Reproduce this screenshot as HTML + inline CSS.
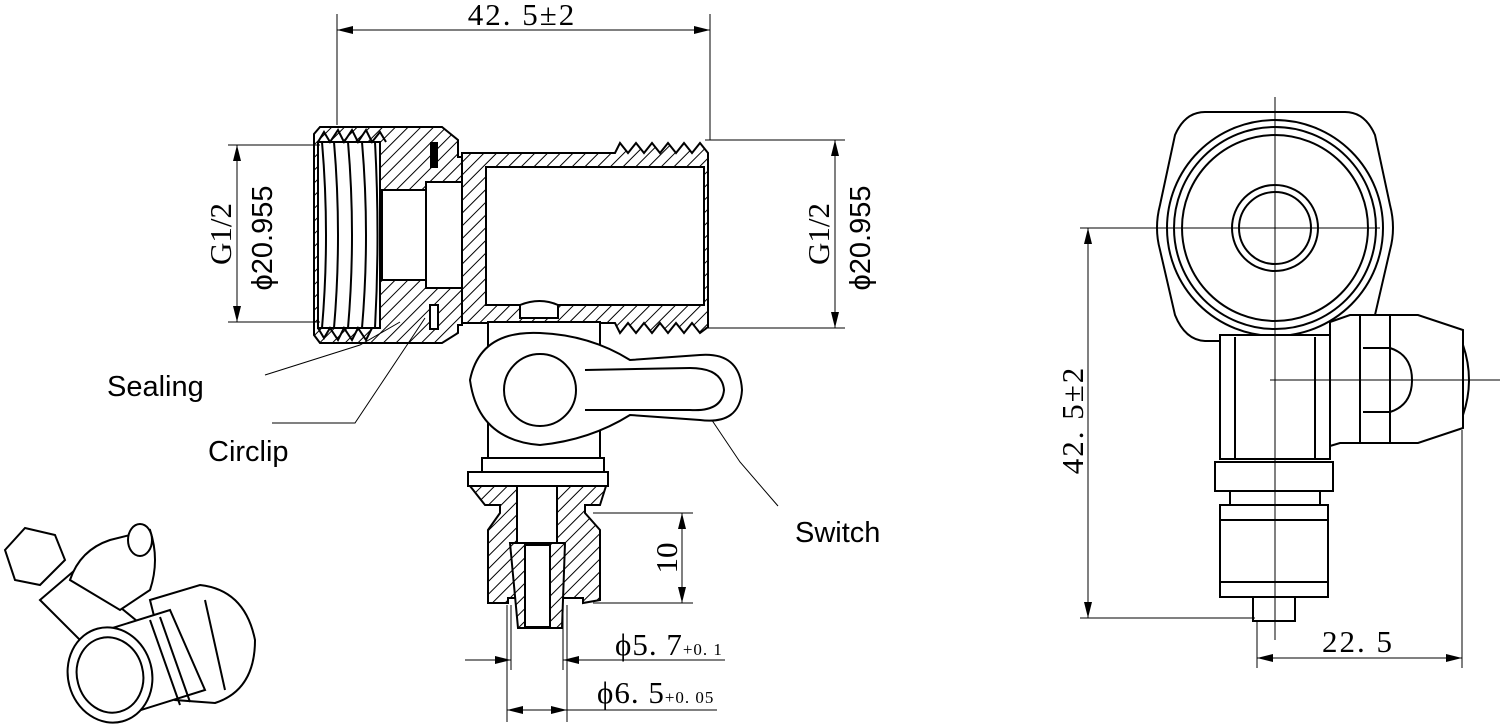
<!DOCTYPE html>
<html><head><meta charset="utf-8"><style>
html,body{margin:0;padding:0;background:#fff;}
svg{display:block;}
.s{fill:none;stroke:#000;stroke-width:2;}
.t{stroke:#000;stroke-width:1;fill:none;}
.h{fill:url(#hatch);stroke:#000;stroke-width:2;}
.w{fill:#fff;stroke:#000;stroke-width:2;}
.lab{font-family:"Liberation Sans",sans-serif;font-size:29px;}
.dim{font-family:"Liberation Serif",serif;font-size:31px;}
</style></head><body>
<svg width="1500" height="725" viewBox="0 0 1500 725" xmlns="http://www.w3.org/2000/svg">
<defs>
<pattern id="hatch" width="9" height="9" patternUnits="userSpaceOnUse" patternTransform="rotate(45)">
<rect width="9" height="9" fill="#fff"/><line x1="0" y1="0" x2="0" y2="9" stroke="#000" stroke-width="2"/></pattern>
<marker id="a" markerWidth="16" markerHeight="8" refX="16" refY="4" orient="auto-start-reverse" markerUnits="userSpaceOnUse">
<path d="M0,0 L16,4 L0,8 z" fill="#000"/></marker>
</defs>

<!-- top dimension -->
<line class="t" x1="337" y1="14" x2="337" y2="125"/>
<line class="t" x1="710" y1="14" x2="710" y2="140"/>
<line class="t" x1="337" y1="30" x2="710" y2="30" marker-start="url(#a)" marker-end="url(#a)"/>
<text class="dim" x="522" y="25" text-anchor="middle" letter-spacing="2">42. 5±2</text>

<!-- left fitting nut -->
<path class="h" d="M320,127 L442,127 L458,140 L458,157 L462,157 L462,325 L458,325 L458,333 L442,343 L320,343 L314,335 L314,134 Z"/>
<rect class="w" x="318" y="142" width="62" height="186"/>
<g class="s" stroke-width="1.5">
<path d="M322,142 Q330,235 322,328 M334,142 Q342,235 334,328 M348,142 Q356,235 348,328 M362,142 Q370,235 362,328 M375,142 Q380,235 375,328"/>
</g>
<path class="s" d="M318,142 l6,-10 l6,10 l8,-12 l6,12 l8,-12 l6,12 l8,-12 l6,12 l8,-10 l6,10"/>
<path class="s" d="M318,328 l6,10 l6,-10 l8,12 l6,-12 l8,12 l6,-12 l8,12 l6,-12"/>
<rect class="w" x="382" y="190" width="44" height="90"/>
<rect class="w" x="426" y="182" width="60" height="106"/>
<!-- pipe -->
<path class="h" d="M462,153 L615,153 L620,143 L628,153 L636,143 L644,153 L652,143 L660,153 L668,143 L676,153 L684,143 L692,153 L700,143 L708,153 L708,327 L700,333 L692,323 L684,333 L676,323 L668,333 L660,323 L652,333 L644,323 L636,333 L628,323 L620,333 L615,323 L462,323 Z"/>
<rect class="w" x="486" y="167" width="218" height="138"/>
<line class="s" x1="426" y1="182" x2="426" y2="288"/>
<rect x="430" y="142" width="8" height="26" fill="#000"/>
<rect class="w" x="430" y="305" width="8" height="24"/>
<path class="w" d="M520,305 Q540,297 558,305 L558,318 L520,318 Z"/>

<!-- left dims -->
<line class="t" x1="228" y1="145" x2="320" y2="145"/>
<line class="t" x1="228" y1="322" x2="320" y2="322"/>
<line class="t" x1="237" y1="145" x2="237" y2="322" marker-start="url(#a)" marker-end="url(#a)"/>
<text class="dim" transform="translate(231,234) rotate(-90)" text-anchor="middle" font-size="26">G1/2</text>
<text class="lab" transform="translate(272,238) rotate(-90)" text-anchor="middle" font-size="33">ϕ20.955</text>
<!-- right dims -->
<line class="t" x1="705" y1="140" x2="845" y2="140"/>
<line class="t" x1="705" y1="328" x2="845" y2="328"/>
<line class="t" x1="835" y1="140" x2="835" y2="328" marker-start="url(#a)" marker-end="url(#a)"/>
<text class="dim" transform="translate(829,234) rotate(-90)" text-anchor="middle" font-size="26">G1/2</text>
<text class="lab" transform="translate(870,238) rotate(-90)" text-anchor="middle" font-size="33">ϕ20.955</text>

<!-- labels -->
<text class="lab" x="107" y="396">Sealing</text>
<polyline class="t" points="265,375 360,345 400,322"/>
<text class="lab" x="208" y="461">Circlip</text>
<polyline class="t" points="272,423 355,423 425,318"/>
<text class="lab" x="795" y="542">Switch</text>
<polyline class="t" points="778,506 740,462 695,395"/>

<!-- switch -->
<path class="w" d="M488,322 L600,322 L600,460 L488,460 Z"/>
<path class="w" d="M470,380 Q480,330 540,333 Q590,335 630,360 L700,355 Q740,352 742,390 Q740,425 700,420 L630,415 Q590,440 540,445 Q478,440 470,380 Z"/>
<circle class="s" cx="540" cy="390" r="36"/>
<path class="s" d="M585,370 L690,368 Q722,368 724,390 Q722,412 690,410 L585,410"/>

<!-- bottom fitting -->
<rect class="w" x="482" y="458" width="122" height="14"/>
<rect class="w" x="468" y="472" width="140" height="14"/>
<path class="h" d="M470,486 L606,486 L600,505 L585,505 L585,513 L600,530 L600,600 L583,603 L583,598 L508,598 L508,603 L488,603 L488,530 L500,513 L500,505 L485,505 Z"/>
<rect class="w" x="517" y="486" width="40" height="57"/>
<path class="h" d="M510,543 L565,543 L562,628 L518,628 Z"/>
<rect class="w" x="525" y="545" width="25" height="82"/>

<!-- dim 10 -->
<line class="t" x1="593" y1="513" x2="693" y2="513"/>
<line class="t" x1="593" y1="603" x2="693" y2="603"/>
<line class="t" x1="682" y1="513" x2="682" y2="603" marker-start="url(#a)" marker-end="url(#a)"/>
<text class="dim" transform="translate(677,558) rotate(-90)" text-anchor="middle">10</text>
<!-- dia dims -->
<line class="t" x1="511" y1="605" x2="511" y2="670"/>
<line class="t" x1="563" y1="605" x2="563" y2="670"/>
<line class="t" x1="507" y1="605" x2="507" y2="722"/>
<line class="t" x1="567" y1="605" x2="567" y2="722"/>
<line class="t" x1="465" y1="660" x2="511" y2="660" marker-end="url(#a)"/>
<line class="t" x1="725" y1="660" x2="563" y2="660" marker-end="url(#a)"/>
<text class="dim" x="615" y="655" letter-spacing="1">ϕ5. 7<tspan font-size="17">+0. 1</tspan></text>
<line class="t" x1="537" y1="710" x2="507" y2="710" marker-end="url(#a)"/>
<line class="t" x1="537" y1="710" x2="567" y2="710" marker-end="url(#a)"/>
<line class="t" x1="567" y1="710" x2="717" y2="710"/>
<text class="dim" x="597" y="703" letter-spacing="1">ϕ6. 5<tspan font-size="17">+0. 05</tspan></text>

<!-- right view -->
<path class="w" d="M1205,112 L1345,112 Q1365,112 1375,135 L1390,205 Q1396,228 1390,250 L1375,315 Q1365,340 1345,341 L1205,341 Q1185,340 1175,315 L1160,250 Q1154,228 1160,205 L1175,135 Q1185,112 1205,112 Z"/>
<circle class="s" cx="1275" cy="228" r="108"/>
<circle class="s" cx="1275" cy="228" r="101"/>
<circle class="s" cx="1275" cy="228" r="93"/>
<circle class="w" cx="1275" cy="228" r="43"/>
<circle class="s" cx="1275" cy="228" r="36"/>
<rect class="w" x="1220" y="335" width="110" height="124"/>
<line class="s" x1="1235" y1="337" x2="1235" y2="458"/>
<line class="s" x1="1315" y1="337" x2="1315" y2="458"/>
<path class="w" d="M1330,322 L1350,315 L1418,315 L1463,330 L1463,428 L1418,443 L1340,443 L1330,446 Z"/>
<line class="s" x1="1360" y1="315" x2="1360" y2="443"/>
<line class="s" x1="1390" y1="315" x2="1390" y2="443"/>
<path class="s" d="M1363,348 L1390,348 Q1412,355 1412,380 Q1412,405 1390,412 L1363,412"/>
<path class="w" d="M1463,345 Q1475,380 1463,415 Z"/>
<line class="t" x1="1270" y1="380" x2="1500" y2="380"/>
<rect class="w" x="1215" y="462" width="118" height="29"/>
<rect class="w" x="1230" y="491" width="90" height="14"/>
<rect class="w" x="1220" y="505" width="108" height="92"/>
<line class="s" x1="1220" y1="520" x2="1328" y2="520"/>
<line class="s" x1="1220" y1="582" x2="1328" y2="582"/>
<rect class="w" x="1253" y="597" width="42" height="24"/>
<line class="t" x1="1275" y1="97" x2="1275" y2="640"/>
<line class="t" x1="1175" y1="228" x2="1380" y2="228"/>
<line class="t" x1="1080" y1="228" x2="1200" y2="228"/>
<line class="t" x1="1080" y1="618" x2="1255" y2="618"/>
<line class="t" x1="1088" y1="228" x2="1088" y2="618" marker-start="url(#a)" marker-end="url(#a)"/>
<text class="dim" transform="translate(1083,420) rotate(-90)" text-anchor="middle" letter-spacing="2">42. 5±2</text>
<line class="t" x1="1257" y1="620" x2="1257" y2="668"/>
<line class="t" x1="1462" y1="430" x2="1462" y2="668"/>
<line class="t" x1="1257" y1="658" x2="1462" y2="658" marker-start="url(#a)" marker-end="url(#a)"/>
<text class="dim" x="1358" y="652" text-anchor="middle" letter-spacing="2">22. 5</text>

<!-- isometric sketch -->
<g class="s">
<path class="w" d="M40,600 L75,570 L160,640 L120,680 Z"/>
<path class="w" d="M70,580 Q80,550 110,540 L150,530 Q160,560 150,590 L120,610 Z"/>
<ellipse class="w" cx="140" cy="540" rx="12" ry="16"/>
<path class="w" d="M5,550 L25,528 L55,535 L65,560 L40,585 L15,580 Z"/>
<path class="w" d="M150,600 L200,585 Q245,590 255,640 Q255,690 215,703 L175,700 Z"/>
<line class="s" x1="205" y1="600" x2="225" y2="690"/>
<path class="w" d="M90,635 L170,610 L205,690 L125,715 Z"/>
<line class="s" x1="150" y1="620" x2="180" y2="705"/>
<line class="s" x1="160" y1="617" x2="190" y2="702"/>
<ellipse class="w" cx="110" cy="675" rx="42" ry="48" transform="rotate(-15 110 675)"/>
<ellipse class="w" cx="110" cy="675" rx="33" ry="38" transform="rotate(-15 110 675)"/>
</g>
</svg>
</body></html>
